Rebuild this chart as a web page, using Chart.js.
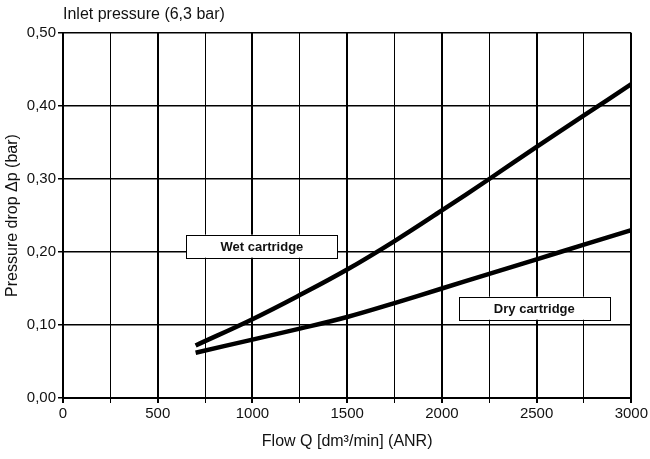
<!DOCTYPE html>
<html>
<head>
<meta charset="utf-8">
<script src="https://cdn.jsdelivr.net/npm/chart.js@4.4.1/dist/chart.umd.min.js"></script>
<style>
  html, body { margin: 0; padding: 0; background: #fff; }
  canvas { display: block; }
</style>
</head>
<body>
<canvas id="chart" width="650" height="459"></canvas>
<script>
// flow in dm3/min (ANR), pressure drop in bar
const flow = [700, 1000, 1250, 1500, 1750, 2000, 2250, 2500, 2750, 3000];
const wetDrop = [0.072, 0.108, 0.141, 0.176, 0.215, 0.257, 0.300, 0.344, 0.387, 0.430];
const dryDrop = [0.062, 0.080, 0.095, 0.111, 0.130, 0.150, 0.170, 0.190, 0.210, 0.230];

const curveLabels = [
  { text: 'Wet cartridge', x: 1050, y: 0.208 },
  { text: 'Dry cartridge', x: 2488, y: 0.123 }
];

const FONT = "'Liberation Sans', Arial, Helvetica, sans-serif";

const toPts = (ys) => ys.map((y, i) => ({ x: flow[i], y }));

// boxed curve labels, anchored in data units
const boxLabels = {
  id: 'boxLabels',
  afterDatasetsDraw(chart) {
    const { ctx, scales: { x, y } } = chart;
    ctx.save();
    ctx.font = 'bold 13px ' + FONT;
    ctx.textAlign = 'center';
    ctx.textBaseline = 'middle';
    curveLabels.forEach(l => {
      const cx = x.getPixelForValue(l.x);
      const cy = y.getPixelForValue(l.y);
      const w = 151, h = 23;
      ctx.fillStyle = '#fff';
      ctx.fillRect(cx - w / 2, cy - h / 2, w, h);
      ctx.strokeStyle = '#000';
      ctx.lineWidth = 1;
      ctx.strokeRect(Math.round(cx - w / 2) + 0.5, Math.round(cy - h / 2) + 0.5, w, h);
      ctx.fillStyle = '#111';
      ctx.fillText(l.text, cx, cy + 1);
    });
    ctx.restore();
  }
};

new Chart(document.getElementById('chart'), {
  type: 'line',
  data: {
    datasets: [
      {
        label: 'Wet cartridge',
        data: toPts(wetDrop),
        borderColor: '#000',
        borderWidth: 4.5,
        pointRadius: 0,
        tension: 0.4,
        fill: false
      },
      {
        label: 'Dry cartridge',
        data: toPts(dryDrop),
        borderColor: '#000',
        borderWidth: 4.5,
        pointRadius: 0,
        tension: 0.4,
        fill: false
      }
    ]
  },
  options: {
    responsive: false,
    animation: false,
    layout: { padding: { top: 0, right: 18, bottom: 0, left: 0 } },
    plugins: {
      legend: { display: false },
      tooltip: { enabled: false },
      title: {
        display: true,
        text: 'Inlet pressure (6,3 bar)',
        align: 'start',
        fullSize: false,
        color: '#111',
        font: { family: FONT, size: 16, weight: 'normal' },
        padding: { top: 5, bottom: 8.8 }
      }
    },
    scales: {
      x: {
        type: 'linear',
        min: 0,
        max: 3000,
        afterFit(scale) { scale.height = 61; },
        border: { color: '#000', width: 2 },
        grid: {
          color: '#000',
          lineWidth: (c) => (c.tick && c.tick.value % 500 === 0 ? 2 : 1),
          tickLength: 5,
          tickColor: '#000'
        },
        ticks: {
          stepSize: 250,
          autoSkip: false,
          maxRotation: 0,
          padding: 2,
          color: '#111',
          font: { family: FONT, size: 15 },
          callback: (v) => (v % 500 === 0 ? String(v) : '')
        },
        title: {
          display: true,
          text: 'Flow Q [dm³/min] (ANR)',
          color: '#111',
          font: { family: FONT, size: 16 },
          padding: { top: 0, bottom: 8 }
        }
      },
      y: {
        min: 0,
        max: 0.5,
        afterFit(scale) { scale.width = 63; },
        border: { color: '#000', width: 2 },
        grid: {
          color: '#000',
          lineWidth: 1.5,
          tickLength: 5,
          tickColor: '#000'
        },
        ticks: {
          stepSize: 0.1,
          padding: 2,
          color: '#111',
          font: { family: FONT, size: 15 },
          callback: (v) => v.toFixed(2).replace('.', ',')
        },
        title: {
          display: true,
          text: 'Pressure drop Δp (bar)',
          color: '#111',
          font: { family: FONT, size: 16 },
          padding: { top: 3, bottom: 0 }
        }
      }
    }
  },
  plugins: [boxLabels]
});
</script>
</body>
</html>
